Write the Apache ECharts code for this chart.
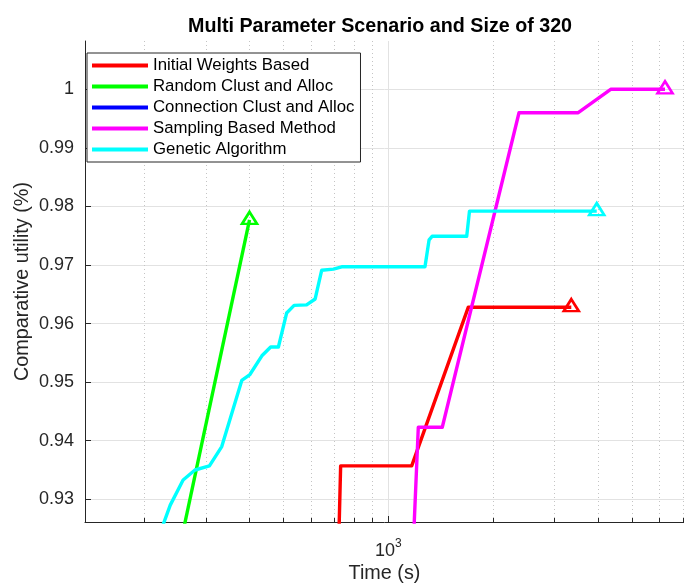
<!DOCTYPE html>
<html>
<head>
<meta charset="utf-8">
<script src="https://cdn.jsdelivr.net/npm/echarts@6/dist/echarts.min.js"></script>
<style>
  html, body { margin: 0; padding: 0; background: #fff; }
  #chart { width: 684px; height: 583px; }
</style>
</head>
<body>
<div id="chart"></div>
<script>
// Run-time (s) and comparative utility for each method
const timeInitial = [719, 730, 1167, 1696, 3347];
const utilInitial = [0.920, 0.9357, 0.9357, 0.9628, 0.9628];

const timeRandom = [250, 400];
const utilRandom = [0.9207, 0.9777];

const timeConnection = [];
const utilConnection = [];

const timeSampling = [1175, 1219, 1428, 2370, 3504, 4341, 6214];
const utilSampling = [0.920, 0.9423, 0.9423, 0.9960, 0.9960, 1.0000, 1.0000];

const timeGenetic = [224, 237, 258, 279, 307, 333, 380, 401, 434, 460, 484, 511, 537, 583, 617, 644, 696, 735, 1274, 1309, 1335, 1678, 1709, 3959];
const utilGenetic = [0.925, 0.9290, 0.9333, 0.9350, 0.9357, 0.9390, 0.9503, 0.9513, 0.9545, 0.9560, 0.9560, 0.9618, 0.9631, 0.9632, 0.9642, 0.9691, 0.9693, 0.9697, 0.9697, 0.9743, 0.9749, 0.9749, 0.9792, 0.9792];

const methodNames = ['Initial Weights Based', 'Random Clust and Alloc', 'Connection Clust and Alloc', 'Sampling Based Method', 'Genetic Algorithm'];
const methodColors = ['#ff0000', '#00ff00', '#0000ff', '#ff00ff', '#00ffff'];

// Axis ticks
const xMajorTicks = [1000];
const xMinorTicks = [200, 300, 400, 500, 600, 700, 800, 900, 2000, 3000, 4000, 5000, 6000, 7000];
const yTicks = [0.93, 0.94, 0.95, 0.96, 0.97, 0.98, 0.99, 1.00];

const xRange = [135, 7044];
const yRange = [0.92612, 1.00825];

const FONT = "'Liberation Sans', Arial, Helvetica, sans-serif";
const AXIS_COLOR = '#262626';

// Build line data; the final point of each run carries an open triangle marker
function buildData(times, utils, color) {
  return times.map((t, i) => {
    const item = { value: [t, utils[i]] };
    if (i === times.length - 1) {
      item.symbol = 'triangle';
      item.symbolSize = [15, 12];
      item.symbolOffset = [0, -2];
      item.itemStyle = { color: 'rgba(0,0,0,0)', borderColor: color, borderWidth: 2.6 };
    }
    return item;
  });
}

const seriesTimes = [timeInitial, timeRandom, timeConnection, timeSampling, timeGenetic];
const seriesUtils = [utilInitial, utilRandom, utilConnection, utilSampling, utilGenetic];

const series = methodNames.map((name, k) => ({
  name: name,
  type: 'line',
  xAxisIndex: 0,
  yAxisIndex: 0,
  data: buildData(seriesTimes[k], seriesUtils[k], methodColors[k]),
  color: methodColors[k],
  symbol: 'none',
  showSymbol: true,
  clip: true,
  emphasis: { disabled: true },
  lineStyle: { width: 3.4, color: methodColors[k], join: 'round' }
}));

const chart = echarts.init(document.getElementById('chart'), null, { renderer: 'canvas' });

chart.setOption({
  backgroundColor: '#ffffff',
  animation: false,
  title: {
    text: 'Multi Parameter Scenario and Size of 320',
    left: 183,
    top: 12,
    textStyle: { fontFamily: FONT, fontSize: 19.7, fontWeight: 'bold', color: '#000' }
  },
  legend: {
    orient: 'vertical',
    left: 87,
    top: 53,
    padding: [2, 6, 2, 5],
    itemGap: 0,
    itemWidth: 56,
    itemHeight: 4,
    icon: 'rect',
    backgroundColor: '#ffffff',
    borderColor: AXIS_COLOR,
    borderWidth: 1,
    borderRadius: 0,
    selectedMode: false,
    data: methodNames,
    textStyle: { fontFamily: FONT, fontSize: 16.8, color: '#000', lineHeight: 21 }
  },
  grid: { left: 85, right: 0, top: 41, bottom: 61, containLabel: false, outerBoundsMode: 'none' },
  xAxis: [
    {
      type: 'log',
      logBase: 10,
      min: xRange[0],
      max: xRange[1],
      name: 'Time (s)',
      nameLocation: 'middle',
      nameGap: 42,
      nameMoveOverlap: false,
      nameTextStyle: { fontFamily: FONT, fontSize: 19.8, color: AXIS_COLOR },
      axisLine: { show: true, onZero: false, lineStyle: { color: AXIS_COLOR, width: 1 } },
      axisTick: { show: true, inside: true, length: 6, customValues: xMajorTicks, lineStyle: { color: AXIS_COLOR, width: 1 } },
      axisLabel: {
        show: true,
        customValues: xMajorTicks,
        margin: 16,
        formatter: function (v) { return '{b|10}{s|' + Math.round(Math.log10(v)) + '}'; },
        rich: {
          b: { fontFamily: FONT, fontSize: 18, color: AXIS_COLOR, verticalAlign: 'bottom', lineHeight: 22 },
          s: { fontFamily: FONT, fontSize: 12, color: AXIS_COLOR, verticalAlign: 'top', lineHeight: 22 }
        }
      },
      splitLine: { show: true, lineStyle: { color: '#e2e2e2', width: 1, type: 'solid' } }
    },
    {
      type: 'log',
      logBase: 10,
      min: xRange[0],
      max: xRange[1],
      position: 'bottom',
      axisLine: { show: false },
      axisTick: { show: true, inside: true, length: 4, customValues: xMinorTicks, lineStyle: { color: AXIS_COLOR, width: 1 } },
      axisLabel: { show: false, customValues: xMinorTicks },
      splitLine: { show: true, lineStyle: { color: '#c4c4c4', width: 1, type: [1, 3] } }
    }
  ],
  yAxis: {
    type: 'value',
    min: yRange[0],
    max: yRange[1],
    name: 'Comparative utility (%)',
    nameLocation: 'middle',
    nameGap: 52,
    nameMoveOverlap: false,
    nameRotate: 90,
    nameTextStyle: { fontFamily: FONT, fontSize: 19.8, color: AXIS_COLOR },
    axisLine: { show: true, onZero: false, lineStyle: { color: AXIS_COLOR, width: 1 } },
    axisTick: { show: true, inside: true, length: 6, customValues: yTicks, lineStyle: { color: AXIS_COLOR, width: 1 } },
    axisLabel: {
      customValues: yTicks,
      margin: 11,
      fontFamily: FONT,
      fontSize: 18,
      color: AXIS_COLOR,
      formatter: function (v) { return String(parseFloat(v.toFixed(2))); }
    },
    splitLine: { show: true, lineStyle: { color: '#e2e2e2', width: 1 } }
  },
  series: series
});
</script>
</body>
</html>
